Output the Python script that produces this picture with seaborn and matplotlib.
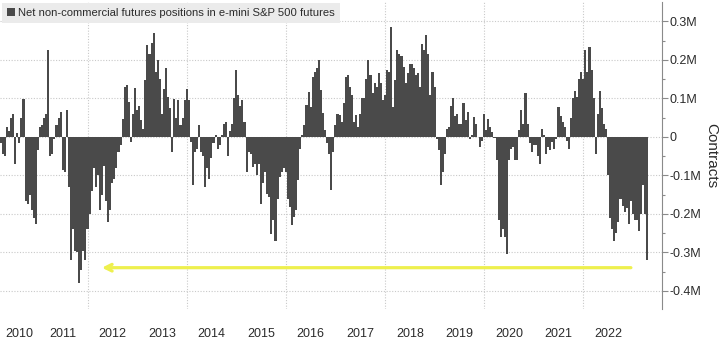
import numpy as np
import pandas as pd
import matplotlib
matplotlib.use("Agg")
import matplotlib.pyplot as plt
from matplotlib.patches import Patch
import seaborn as sns

# ---- data: net non-commercial positions, thousands of contracts, semi-monthly ----
v2010 = [-15, -45, -50, 25, 15, 50, 60, -70, 10, -15, 50, 98,
         -165, -175, -150, -190, -210, -225]                       # from April
v2011 = [-35, 25, 30, 50, 60, 225, -50, -45, -5, 30, 50, 65,
         -85, -90, 70, -130, -320, -240, -295, -300, -380, -345, -295, -320]
v2012 = [-240, -200, -140, -80, -130, -100, -190, -150, -75, -165, -220, -190,
         -120, -110, -80, -40, -20, 48, 130, 135, 90, -13, 60, 128]
v2013 = [70, 80, 43, 22, 147, 240, 215, 245, 270, 170, 199, 150,
         60, 125, 178, 104, 74, -39, 99, 50, 95, 30, 50, 95]
v2014 = [125, 95, -13, -125, -40, -30, 30, -40, -50, -130, -80, -110,
         -55, -15, 5, -30, -20, 5, 35, 40, -50, 15, 35, 100]
v2015 = [173, 110, 80, 95, 40, -90, -40, -45, -78, -70, -100, -69,
         -173, -120, -91, -147, -156, -251, -216, -270, -160, -104, -90, -80]
v2016 = [-90, -160, -182, -229, -208, -190, -113, -30, 5, 30, 82, 117,
         78, 156, 169, 178, 199, 121, 61, 17, -15, -43, -139, -40]
v2017 = [30, 60, 56, 40, 87, 155, 160, 130, 110, 39, 56, 25,
         60, 100, 100, 150, 199, 160, 113, 140, 130, 165, 140, 95]
v2018 = [110, 173, 169, 286, 78, 147, 225, 216, 210, 182, 140, 165,
         190, 190, 178, 160, 165, 130, 242, 225, 264, 215, 110, 169]
v2019 = [130, -5, -35, -125, -90, -45, 20, 25, 80, 100, 55, 60,
         35, 35, 87, 45, 65, -5, 5, 52, 35, 0, -25, -10]
v2020 = [60, 18, 48, 25, 13, -3, -60, -216, -260, -240, -260, -303,
         -60, -30, -25, -60, -60, 17, 70, 35, 115, 35, -15, -40]
v2021 = [-20, -20, -50, -70, 20, 5, -43, -26, -35, -13, -30, -5,
         78, 55, 38, 26, -10, -30, 50, 100, 120, 105, 150, 170]
v2022 = [150, 225, 170, 234, 175, 100, -45, 60, 120, 75, 35, 20,
         -100, -210, -240, -270, -250, -220, -160, -180, -195, -185, -225, -165]
v2023 = [-200, -215, -215, -243, -200, -125, -200, -320]          # to April

year_series = [(2010, 6, v2010), (2011, 0, v2011), (2012, 0, v2012),
               (2013, 0, v2013), (2014, 0, v2014), (2015, 0, v2015),
               (2016, 0, v2016), (2017, 0, v2017), (2018, 0, v2018),
               (2019, 0, v2019), (2020, 0, v2020), (2021, 0, v2021),
               (2022, 0, v2022), (2023, 0, v2023)]

year_labels = [str(y) for y in range(2010, 2023)]
ytick_values = [300, 200, 100, 0, -100, -200, -300, -400]
ytick_labels = ["0.3M", "0.2M", "0.1M", "0", "-0.1M", "-0.2M", "-0.3M", "-0.4M"]
legend_label = "Net non-commercial futures positions in e-mini S&P 500 futures"

rows = []
for yr, k0, vals in year_series:
    for i, v in enumerate(vals):
        rows.append({"t": round(yr + (k0 + i) / 24.0, 6), "net": v})
df = pd.DataFrame(rows)

# ---- style ----
sns.set_style("white")
plt.rcParams["font.family"] = ["Liberation Sans", "DejaVu Sans"]

bar_color = "#4a4a4a"
grid_color = "#c9c9c9"
text_color = "#2b2b2b"

fig = plt.figure(figsize=(7.28, 3.40), dpi=100)
ax = fig.add_axes([0.0, 1 - 309 / 340, 662 / 728, 307 / 340])

sns.barplot(data=df, x="t", y="net", native_scale=True, orient="x",
            color=bar_color, saturation=1, width=1.0, errorbar=None,
            linewidth=0, ax=ax, zorder=3)

# ---- axes ----
ax.set_xlim(2010.235, 2023.587)
ax.set_ylim(-446.8, 350.6)

xt = [2010.618] + [y + 0.5 for y in range(2011, 2023)]
ax.set_xticks(xt)
ax.set_xticklabels(year_labels)
ax.tick_params(axis="x", length=0, pad=14, labelsize=9, labelcolor=text_color)

ax.yaxis.tick_right()
ax.yaxis.set_label_position("right")
ax.set_yticks(ytick_values)
ax.set_yticklabels(ytick_labels)
ax.set_yticks([250, 150, 50, -50, -150, -250, -350], minor=True)
ax.tick_params(axis="y", which="major", length=4, width=0.8, color="#8a8a8a",
               pad=1.5, labelsize=9, labelcolor=text_color)
ax.tick_params(axis="y", which="minor", length=2, width=0.8, color="#8a8a8a")
ax.set_ylabel("Contracts", rotation=270, fontsize=11, color=text_color, labelpad=12)
ax.set_xlabel("")

for s in ["left", "top", "bottom"]:
    ax.spines[s].set_visible(False)
ax.spines["right"].set_color("#8a8a8a")
ax.spines["right"].set_linewidth(0.8)

ax.yaxis.grid(True, color=grid_color, linestyle=(0, (1, 1.5)), linewidth=0.8)
ax.xaxis.grid(False)
for gy in range(2012, 2023, 2):
    ax.axvline(gy, color=grid_color, linestyle=(0, (1, 1.5)), linewidth=0.8, zorder=1)
ax.set_axisbelow(True)

# ---- annotation arrow ----
ax.annotate("", xy=(2012.29, -339.5), xytext=(2022.96, -339.5),
            arrowprops=dict(arrowstyle="->", color="#eef04e", lw=2.3,
                            shrinkA=0, shrinkB=0, mutation_scale=12,
                            ), zorder=5)
ax.patches[-1:] if False else None

# ---- legend ----
handle = Patch(facecolor=bar_color, edgecolor="none")
fig.legend([handle], [legend_label], loc="upper left",
           bbox_to_anchor=(2 / 728, 1 - 3 / 340), frameon=True, fancybox=False,
           facecolor="#ebebeb", edgecolor="none", framealpha=1,
           handlelength=0.7, handleheight=0.7, handletextpad=0.3,
           borderpad=0.45, borderaxespad=0, fontsize=8.1, labelcolor=text_color)

fig.savefig("out.png", dpi=100, facecolor="white")
